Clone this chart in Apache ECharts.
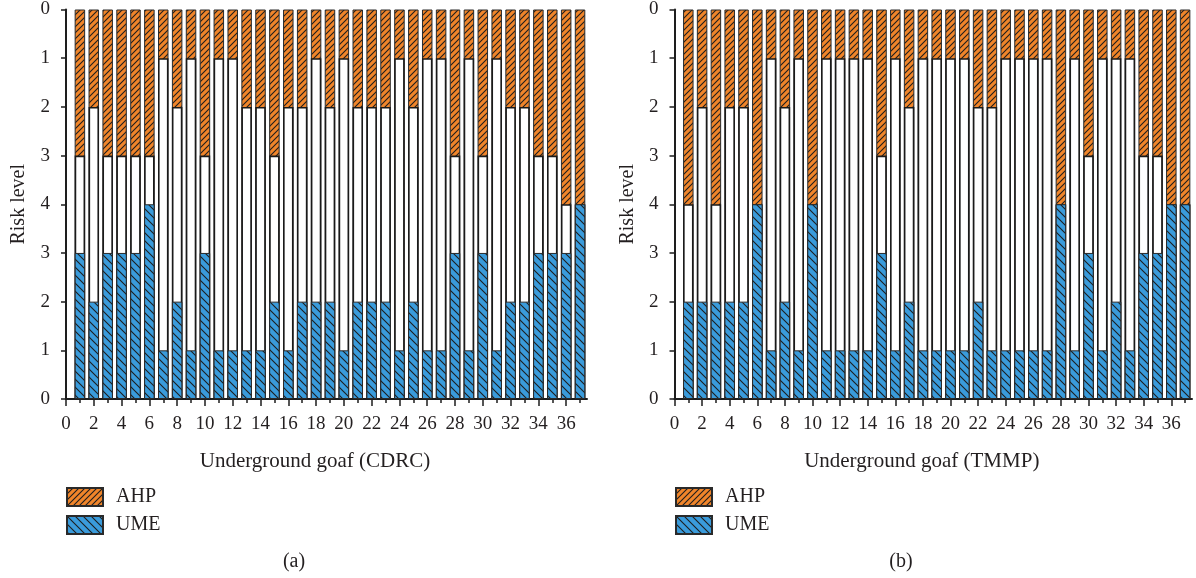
<!DOCTYPE html>
<html>
<head>
<meta charset="utf-8">
<script src="https://cdn.jsdelivr.net/npm/echarts@6/dist/echarts.min.js"></script>
<style>
html,body{margin:0;padding:0;background:#fff;}
#c{width:1196px;height:578px;}
</style>
</head>
<body>
<div id="c"></div>
<script>
// ---------- data ----------
const goafIds = [1,2,3,4,5,6,7,8,9,10,11,12,13,14,15,16,17,18,19,20,21,22,23,24,25,26,27,28,29,30,31,32,33,34,35,36,37];
// panel (a) CDRC
const umeA = [3,2,3,3,3,4,1,2,1,3,1,1,1,1,2,1,2,2,2,1,2,2,2,1,2,1,1,3,1,3,1,2,2,3,3,3,4];
const ahpA = [3,2,3,3,3,3,1,2,1,3,1,1,2,2,3,2,2,1,2,1,2,2,2,1,2,1,1,3,1,3,1,2,2,3,3,4,4];
// panel (b) TMMP
const umeB = [2,2,2,2,2,4,1,2,1,4,1,1,1,1,3,1,2,1,1,1,1,2,1,1,1,1,1,4,1,3,1,2,1,3,3,4,4];
const ahpB = [4,2,4,2,2,4,1,2,1,4,1,1,1,1,3,1,2,1,1,1,1,2,2,1,1,1,1,4,1,3,1,1,1,3,3,4,4];
const xMajorTicks = [0,2,4,6,8,10,12,14,16,18,20,22,24,26,28,30,32,34,36];
const xMinorTicks = [1,3,5,7,9,11,13,15,17,19,21,23,25,27,29,31,33,35,37];
const levelMax = 4;          // risk levels run 0..4 from bottom and 0..4 from top
const xTitles = ['Underground goaf (CDRC)', 'Underground goaf (TMMP)'];
const panelLabels = ['(a)', '(b)'];

// ---------- patterns ----------
function hatch(bg, step, dir) {
  const c = document.createElement('canvas');
  c.width = step; c.height = step;
  const g = c.getContext('2d');
  g.fillStyle = bg; g.fillRect(0, 0, step, step);
  g.strokeStyle = '#1e1e1e'; g.lineWidth = 1.1;
  g.beginPath();
  if (dir > 0) { // "/"
    g.moveTo(-1, step + 1); g.lineTo(step + 1, -1);
    g.moveTo(-1, 1); g.lineTo(1, -1);
    g.moveTo(step - 1, step + 1); g.lineTo(step + 1, step - 1);
  } else {       // "\"
    g.moveTo(-1, -1); g.lineTo(step + 1, step + 1);
    g.moveTo(step - 1, -1); g.lineTo(step + 1, 1);
    g.moveTo(-1, step - 1); g.lineTo(1, step + 1);
  }
  g.stroke();
  return { image: c, repeat: 'repeat' };
}
const orangeFill = hatch('#f0852a', 6, 1);
const blueFill = hatch('#3a9bdb', 8, -1);

const FONT = '"Liberation Serif", "DejaVu Serif", serif';
const TXT = '#231f20';
const total = levelMax * 2;   // full bar span (top scale + bottom scale)

const grids = [
  { left: 66, top: 9, width: 521, height: 390 },
  { left: 674.5, top: 9, width: 517.5, height: 390 }
];

const xAxes = [], yAxes = [], series = [];
const panels = [[umeA, ahpA], [umeB, ahpB]];
panels.forEach((p, i) => {
  xAxes.push({
    gridIndex: i, type: 'value', min: 0, max: 37.5,
    name: xTitles[i], nameLocation: 'middle', nameGap: 52,
    nameTextStyle: { fontFamily: FONT, fontSize: 21, color: TXT, padding: [0, 23, 0, 0] },
    axisLine: { lineStyle: { color: '#1e1e1e', width: 2 } },
    axisTick: { show: true, length: 7, lineStyle: { color: '#1e1e1e', width: 1.5 }, customValues: xMajorTicks },
    axisLabel: { fontFamily: FONT, fontSize: 19, color: TXT, margin: 16, customValues: xMajorTicks },
    splitLine: { show: false }
  });
  xAxes.push({
    gridIndex: i, type: 'value', min: 0, max: 37.5, position: 'bottom',
    axisLine: { show: false },
    axisTick: { show: true, length: 4, lineStyle: { color: '#1e1e1e', width: 1.5 }, customValues: xMinorTicks },
    axisLabel: { show: false },
    splitLine: { show: false }
  });
  yAxes.push({
    gridIndex: i, type: 'value', min: 0, max: total, interval: 1,
    name: 'Risk level', nameLocation: 'middle', nameGap: 37,
    nameTextStyle: { fontFamily: FONT, fontSize: 20, color: TXT },
    axisLine: { show: true, lineStyle: { color: '#1e1e1e', width: 2 } },
    axisTick: { show: true, length: 5, lineStyle: { color: '#1e1e1e', width: 1.5 } },
    axisLabel: { fontFamily: FONT, fontSize: 19, color: TXT, margin: 16,
      formatter: v => String(v <= levelMax ? v : total - v) },
    splitLine: { show: false }
  });
  const ume = p[0], ahp = p[1];
  const common = { type: 'bar', xAxisIndex: i * 2, yAxisIndex: i, barWidth: 10.5, barGap: '-100%', animation: false };
  // AHP: drawn from the top of the scale down by ahp levels (full column, covered below by the white part)
  series.push(Object.assign({}, common, {
    name: 'AHP', z: 2,
    itemStyle: { color: orangeFill, borderColor: '#2a2a2a', borderWidth: 1 },
    data: goafIds.map((x, k) => [x, total])
  }));
  series.push(Object.assign({}, common, {
    name: 'gap', z: 3,
    itemStyle: { color: '#ffffff', borderColor: '#1a1a1a', borderWidth: 1.6 },
    data: goafIds.map((x, k) => [x, total - ahp[k]])
  }));
  series.push(Object.assign({}, common, {
    name: 'UME', z: 4,
    itemStyle: { color: blueFill, borderColor: '#2a2a2a', borderWidth: 1 },
    data: goafIds.map((x, k) => [x, ume[k]])
  }));
});

const legendCommon = {
  orient: 'vertical', top: 487, itemWidth: 36, itemHeight: 18, itemGap: 8, padding: 0,
  icon: 'rect', data: ['AHP', 'UME'], selectedMode: false,
  textStyle: { fontFamily: FONT, fontSize: 20, lineHeight: 18, color: TXT, padding: [0, 0, 0, 8] }
};

const option = {
  backgroundColor: '#fff',
  animation: false,
  grid: grids,
  xAxis: xAxes,
  yAxis: yAxes,
  series: series,
  legend: [
    Object.assign({ left: 66 }, legendCommon),
    Object.assign({ left: 675 }, legendCommon)
  ],
  title: [
    { text: panelLabels[0], left: 294, top: 552, textAlign: 'center', padding: 0,
      textStyle: { fontFamily: FONT, fontSize: 20, fontWeight: 'normal', color: TXT } },
    { text: panelLabels[1], left: 901, top: 552, textAlign: 'center', padding: 0,
      textStyle: { fontFamily: FONT, fontSize: 20, fontWeight: 'normal', color: TXT } }
  ]
};

const chart = echarts.init(document.getElementById('c'), null, { renderer: 'canvas' });
chart.setOption(option);
</script>
</body>
</html>
